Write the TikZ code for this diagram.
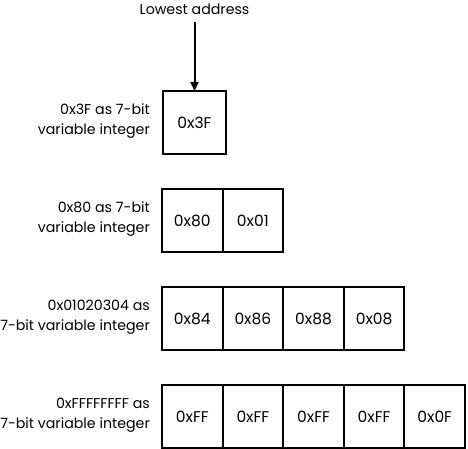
\documentclass[tikz,border=0pt]{standalone}
\usepackage{fontspec}
\setmainfont{Poppins}
\usetikzlibrary{arrows.meta}
\begin{document}
\begin{tikzpicture}[x=1pt,y=-1pt,
  cell/.style={draw,line width=2pt,minimum width=60.6pt,minimum height=63pt,inner sep=0pt,outer sep=0pt,font=\fontsize{15.5}{20}\selectfont},
  lbl/.style={anchor=east,align=right,inner sep=0pt,font=\fontsize{14.2}{20.5}\selectfont},
  conn/.style={line width=2pt,-{Triangle[length=9pt,width=8pt]}}]
\useasboundingbox (0,0) rectangle (468,449);
\node[inner sep=0pt,font=\fontsize{14.2}{16}\selectfont] (top) at (194.5,9) {Lowest address};
\coordinate (ts) at (194.5,22);
% row 1
\node[cell,minimum width=63pt] (a1) at (194.5,122.5) {0x3F};
\node[lbl] (la) at (150,121) {0x3F as 7-bit\\variable integer};
% row 2
\node[cell] (b1) at (192.3,220.5) {0x80};
\node[cell] (b2) at (252.9,220.5) {0x01};
\node[lbl] (lb) at (150,219) {0x80 as 7-bit\\variable integer};
% row 3
\node[cell] (c1) at (192.3,318.5) {0x84};
\node[cell] (c2) at (252.9,318.5) {0x86};
\node[cell] (c3) at (313.5,318.5) {0x88};
\node[cell] (c4) at (374.1,318.5) {0x08};
\node[lbl] (lc) at (150,317) {0x01020304 as\\7-bit variable integer};
% row 4
\node[cell] (d1) at (192.3,416.5) {0xFF};
\node[cell] (d2) at (252.9,416.5) {0xFF};
\node[cell] (d3) at (313.5,416.5) {0xFF};
\node[cell] (d4) at (374.1,416.5) {0xFF};
\node[cell] (d5) at (434.7,416.5) {0x0F};
\node[lbl] (ld) at (150,415) {0xFFFFFFFF as\\7-bit variable integer};
\draw[conn] (ts) -- (a1.north);
\end{tikzpicture}
\end{document}
